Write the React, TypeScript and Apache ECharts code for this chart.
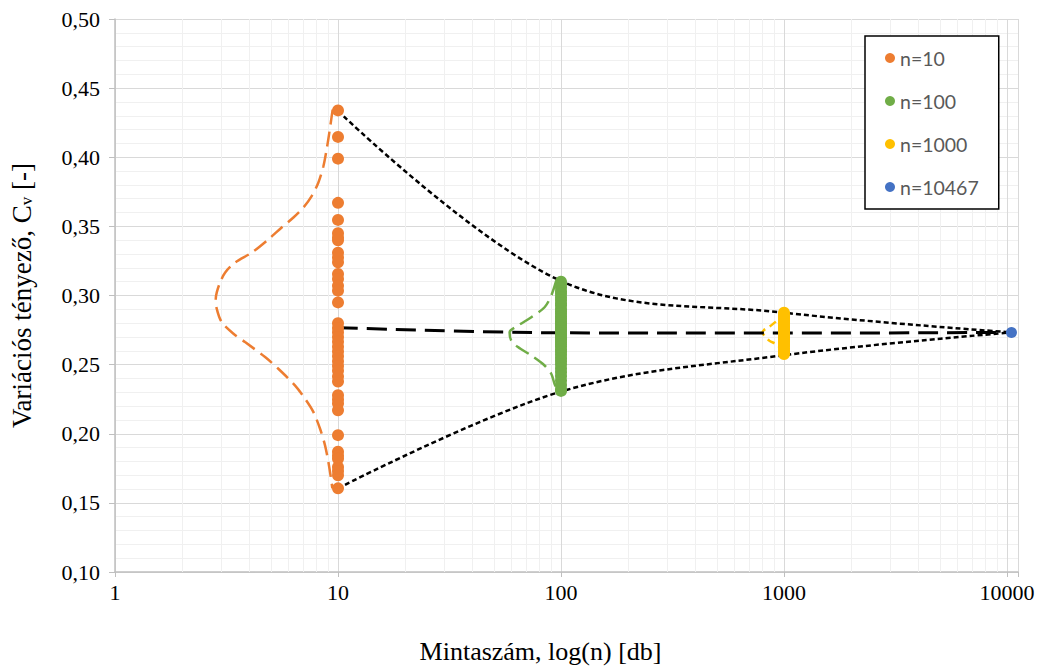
import React, { useEffect, useRef } from 'react';
import * as echarts from 'echarts';

// ---- data ----
const sampleSizes = [10, 100, 1000, 10467];
const meanCv = [0.2767, 0.273, 0.2728, 0.2733];
const upperCv = [0.4335, 0.3105, 0.2876, 0.2733];
const lowerCv = [0.1605, 0.2305, 0.2568, 0.2733];

const n10Values = [
  0.4339, 0.4147, 0.399, 0.367, 0.3547, 0.345, 0.342, 0.34, 0.331, 0.3275, 0.324,
  0.3155, 0.312, 0.307, 0.3035, 0.295, 0.28, 0.2765, 0.2735, 0.27, 0.2665, 0.263,
  0.2595, 0.256, 0.2525, 0.249, 0.2455, 0.2415, 0.2378, 0.2278, 0.2248, 0.2218,
  0.217, 0.199, 0.187, 0.184, 0.182, 0.176, 0.173, 0.17, 0.1605,
];
const n100Values = [
  0.31, 0.3082, 0.3058, 0.3031, 0.3012, 0.2988, 0.2967, 0.2944, 0.2927, 0.2903,
  0.2884, 0.2868, 0.2849, 0.2832, 0.2813, 0.2801, 0.2786, 0.2768, 0.2756, 0.2741,
  0.2724, 0.2712, 0.2693, 0.2681, 0.2664, 0.2648, 0.2632, 0.2609, 0.2593, 0.2571,
  0.2548, 0.2527, 0.2502, 0.2474, 0.2446, 0.2417, 0.2386, 0.2352, 0.2322, 0.231,
];
const n1000Values = [
  0.2875, 0.2861, 0.2847, 0.2836, 0.2821, 0.2807, 0.2796, 0.2781, 0.2771, 0.2759,
  0.2749, 0.2737, 0.2729, 0.2717, 0.2707, 0.2694, 0.2685, 0.2671, 0.2661, 0.2646,
  0.2634, 0.2617, 0.2601, 0.2586, 0.2576,
];
const n10467Values = [0.2733];

const distN10X = [
  9.46, 9.14, 8.89, 8.6, 8.16, 7.62, 6.99, 6.31, 5.59, 4.88, 4.11, 3.46, 3.12, 2.96, 2.86,
  2.83, 2.86, 3.01, 3.4, 3.83, 4.71, 5.4, 6.41, 7.11, 7.75, 8.3, 8.74, 9.05, 9.3, 9.43,
];
const distN10Y = [
  0.4344, 0.4176, 0.4056, 0.3935, 0.3816, 0.3719, 0.3636, 0.3564, 0.3492, 0.3407, 0.3311,
  0.3239, 0.3167, 0.3095, 0.3023, 0.2975, 0.2903, 0.2807, 0.2723, 0.2663, 0.2555, 0.247,
  0.235, 0.2254, 0.2158, 0.2038, 0.1918, 0.1798, 0.1678, 0.1606,
];
const distN100X = [95.2, 90.4, 84.4, 73.6, 64.1, 58.8, 59.8, 64.1, 73.6, 84.4, 90.4, 93.5, 96.8];
const distN100Y = [
  0.3107, 0.2999, 0.2915, 0.2843, 0.2782, 0.2735, 0.2674, 0.2627, 0.2566, 0.2494, 0.2434,
  0.2362, 0.2314,
];
const distN1000X = [919, 873, 801, 858, 919, 951, 968];
const distN1000Y = [0.2811, 0.2782, 0.2735, 0.2674, 0.265, 0.2627, 0.2566];

const seriesNames = ['n=10', 'n=100', 'n=1000', 'n=10467'];
const xMajorLabels = [1, 10, 100, 1000, 10000];
const xMinorGrid = [
  2, 3, 4, 5, 6, 7, 8, 9, 20, 30, 40, 50, 60, 70, 80, 90, 200, 300, 400, 500, 600, 700,
  800, 900, 2000, 3000, 4000, 5000, 6000, 7000, 8000, 9000,
];

const COLORS = { orange: '#ED7D31', green: '#70AD47', yellow: '#FFC000', blue: '#4472C4' };
const SERIF = '"Liberation Serif", "Times New Roman", serif';

const zip = (xs: number[], ys: number[]) => xs.map((x, i) => [x, ys[i]]);
const column = (x: number, ys: number[]) => ys.map((y) => [x, y]);

export default function App() {
  const ref = useRef<HTMLDivElement>(null);
  useEffect(() => {
    if (!ref.current) return;
    const chart = echarts.init(ref.current, null, { renderer: 'svg' });
    const distLine = (color: string) => ({
      color,
      width: 2.5,
      type: [15, 7],
    });
    const envLine = { color: '#000', width: 2.5, type: [5, 3] };
    chart.setOption({
      animation: false,
      textStyle: { fontFamily: SERIF },
      grid: { left: 113, right: 21, top: 19, bottom: 95 },
      legend: {
        data: seriesNames,
        orient: 'vertical',
        left: 865,
        top: 36,
        padding: [12, 20, 12, 20],
        itemGap: 23,
        itemWidth: 10,
        itemHeight: 10,
        icon: 'circle',
        backgroundColor: '#fff',
        borderColor: '#000',
        borderWidth: 1.5,
        textStyle: { fontFamily: 'Lato', fontSize: 19.5, color: '#595959', lineHeight: 20 },
      },
      xAxis: {
        type: 'log',
        logBase: 10,
        min: 1,
        max: 11200,
        axisLine: { show: true, onZero: false, lineStyle: { color: '#bfbfbf', width: 1.5 } },
        axisTick: { show: true, length: 5, lineStyle: { color: '#bfbfbf' } },
        axisLabel: {
          fontFamily: SERIF,
          fontSize: 22,
          color: '#000',
          margin: 9,
          formatter: (v: number) => {
            const hit = xMajorLabels.find((t) => Math.abs(t - v) / t < 1e-6);
            return hit !== undefined ? String(hit) : '';
          },
        },
        splitLine: { show: true, lineStyle: { color: '#d9d9d9', width: 1 } },
        name: 'Mintaszám, log(n) [db]',
        nameLocation: 'middle',
        nameGap: 66,
        nameTextStyle: { fontFamily: SERIF, fontSize: 26, color: '#000', padding: [0, 52, 0, 0] },
      },
      yAxis: {
        type: 'value',
        min: 0.1,
        max: 0.5,
        interval: 0.05,
        axisLine: { show: true, lineStyle: { color: '#bfbfbf', width: 1.5 } },
        axisTick: { show: true, length: 6, lineStyle: { color: '#bfbfbf' } },
        axisLabel: {
          fontFamily: SERIF,
          fontSize: 22,
          color: '#000',
          margin: 15,
          formatter: (v: number) => v.toFixed(2).replace('.', ','),
        },
        splitLine: { show: true, lineStyle: { color: '#d9d9d9', width: 1 } },
        minorTick: { show: false, splitNumber: 5 },
        minorSplitLine: { show: true, lineStyle: { color: '#f0f0f0', width: 1 } },
        name: '{a|Variációs tényező, C}{b|v}{a| [-]}',
        nameLocation: 'middle',
        nameGap: 80,
        nameRotate: 90,
        nameTextStyle: {
          rich: {
            a: { fontFamily: SERIF, fontSize: 27, color: '#000' },
            b: { fontFamily: SERIF, fontSize: 17, color: '#000', verticalAlign: 'bottom' },
          },
        },
      },
      series: [
        {
          name: 'minor-grid',
          type: 'line',
          data: [],
          silent: true,
          markLine: {
            silent: true,
            z: 1,
            symbol: ['none', 'none'],
            label: { show: false },
            lineStyle: { color: '#f0f0f0', width: 1, type: 'solid' },
            emphasis: { disabled: true },
            data: xMinorGrid.map((v) => ({ xAxis: v })),
          },
        },
        {
          name: 'dist10',
          type: 'line',
          data: zip(distN10X, distN10Y),
          smooth: 0.3,
          symbol: 'none',
          lineStyle: distLine(COLORS.orange),
          silent: true,
          z: 3,
        },
        {
          name: 'dist100',
          type: 'line',
          data: zip(distN100X, distN100Y),
          smooth: 0.3,
          symbol: 'none',
          lineStyle: distLine(COLORS.green),
          silent: true,
          z: 3,
        },
        {
          name: 'dist1000',
          type: 'line',
          data: zip(distN1000X, distN1000Y),
          smooth: 0.3,
          symbol: 'none',
          lineStyle: { color: COLORS.yellow, width: 2.5, type: [8, 5] },
          silent: true,
          z: 3,
        },
        {
          name: 'upper',
          type: 'line',
          data: zip(sampleSizes, upperCv),
          smooth: 0.35,
          symbol: 'none',
          lineStyle: envLine,
          silent: true,
          z: 3,
        },
        {
          name: 'lower',
          type: 'line',
          data: zip(sampleSizes, lowerCv),
          smooth: 0.35,
          symbol: 'none',
          lineStyle: envLine,
          silent: true,
          z: 3,
        },
        {
          name: 'mean',
          type: 'line',
          data: zip(sampleSizes, meanCv),
          smooth: 0.35,
          symbol: 'none',
          lineStyle: { color: '#000', width: 3, type: [20, 9] },
          silent: true,
          z: 3,
        },
        {
          name: 'n=10',
          type: 'scatter',
          data: column(sampleSizes[0], n10Values),
          symbolSize: 12,
          itemStyle: { color: COLORS.orange, opacity: 1 },
          z: 4,
        },
        {
          name: 'n=100',
          type: 'scatter',
          data: column(sampleSizes[1], n100Values),
          symbolSize: 12,
          itemStyle: { color: COLORS.green, opacity: 1 },
          z: 4,
        },
        {
          name: 'n=1000',
          type: 'scatter',
          data: column(sampleSizes[2], n1000Values),
          symbolSize: 12,
          itemStyle: { color: COLORS.yellow, opacity: 1 },
          z: 4,
        },
        {
          name: 'n=10467',
          type: 'scatter',
          data: column(sampleSizes[3], n10467Values),
          symbolSize: 11,
          itemStyle: { color: COLORS.blue, opacity: 1 },
          z: 4,
        },
      ],
    });
    return () => chart.dispose();
  }, []);
  return (
    <div
      ref={ref}
      style={{ position: 'fixed', left: 0, top: 0, width: 1039, height: 669, background: '#fff' }}
    />
  );
}
